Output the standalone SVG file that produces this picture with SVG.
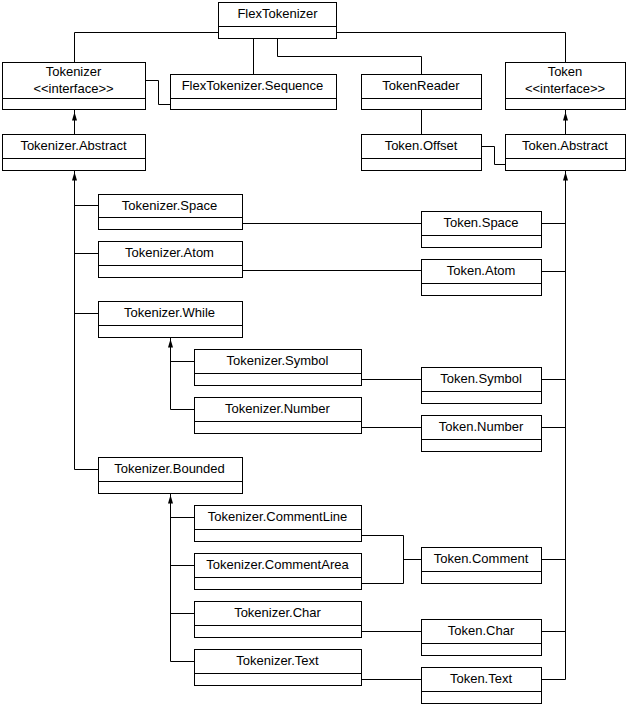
<svg xmlns="http://www.w3.org/2000/svg" width="627" height="707" viewBox="0 0 627 707">
<style>
.b rect{fill:#fff;stroke:#000;stroke-width:1}
.b line{stroke:#000;stroke-width:1}
.b text{font-family:"Liberation Sans",Arial,sans-serif;font-size:13px;fill:#000;text-anchor:middle}
#conn path{fill:none;stroke:#000;stroke-width:1}
</style>
<defs>
<path id="arr" d="M0 0 L-2.5 8.5 L2.5 8.5 Z" fill="#000"/>
</defs>
<rect width="627" height="707" fill="#fff"/>
<g id="conn">
<path d="M218 32.5 H74.5 V62"/>
<path d="M253.5 38 V74"/>
<path d="M277.5 38 V56.5 H421.5 V74"/>
<path d="M336 32.5 H565.5 V62"/>
<path d="M145 80.5 H158.5 V104.5 H170"/>
<path d="M74.5 134 V110"/>
<path d="M421.5 110 V134"/>
<path d="M481 146.5 H494.5 V164.5 H505"/>
<path d="M565.5 134 V110"/>
<path d="M74.5 170 V469.5 H98 M74.5 205.5 H98 M74.5 253.5 H98 M74.5 313.5 H98"/>
<path d="M170.5 337 V409.5 H194 M170.5 361.5 H194"/>
<path d="M170.5 493 V661.5 H194 M170.5 517.5 H194 M170.5 565.5 H194 M170.5 613.5 H194"/>
<path d="M565.5 170 V679.5 H541 M565.5 223.5 H541 M565.5 271.5 H541 M565.5 379.5 H541 M565.5 427.5 H541 M565.5 559.5 H541 M565.5 631.5 H541"/>
<path d="M242 223.5 H421"/>
<path d="M242 270.5 H421"/>
<path d="M361 379.5 H421"/>
<path d="M361 427.5 H421"/>
<path d="M361 535.5 H403.5 V583.5 H361 M403.5 559.5 H421"/>
<path d="M361 631.5 H421"/>
<path d="M361 679.5 H421"/>
<use href="#arr" x="74.5" y="112"/>
<use href="#arr" x="565.5" y="112"/>
<use href="#arr" x="74.5" y="172"/>
<use href="#arr" x="565.5" y="172"/>
<use href="#arr" x="170.5" y="339"/>
<use href="#arr" x="170.5" y="495"/>
</g>
<g id="FlexTokenizer" class="b"><rect x="218.5" y="2.5" width="118" height="36"/><line x1="218.5" y1="26.5" x2="336.5" y2="26.5"/><text x="277.5" y="18">FlexTokenizer</text></g>
<g id="Tokenizer" class="b"><rect x="2.5" y="62.5" width="143" height="47"/><line x1="2.5" y1="98.5" x2="145.5" y2="98.5"/><text x="73.5" y="76">Tokenizer</text><text x="73.5" y="92.5">&lt;&lt;interface&gt;&gt;</text></g>
<g id="FlexTokenizer.Sequence" class="b"><rect x="170.5" y="74.5" width="166" height="35"/><line x1="170.5" y1="98.5" x2="336.5" y2="98.5"/><text x="252.5" y="90">FlexTokenizer.Sequence</text></g>
<g id="TokenReader" class="b"><rect x="361.5" y="74.5" width="120" height="35"/><line x1="361.5" y1="98.5" x2="481.5" y2="98.5"/><text x="421" y="90">TokenReader</text></g>
<g id="Token" class="b"><rect x="505.5" y="62.5" width="120" height="47"/><line x1="505.5" y1="98.5" x2="625.5" y2="98.5"/><text x="565" y="76">Token</text><text x="565" y="92.5">&lt;&lt;interface&gt;&gt;</text></g>
<g id="Tokenizer.Abstract" class="b"><rect x="2.5" y="134.5" width="143" height="36"/><line x1="2.5" y1="158.5" x2="145.5" y2="158.5"/><text x="73.5" y="150">Tokenizer.Abstract</text></g>
<g id="Token.Offset" class="b"><rect x="361.5" y="134.5" width="120" height="36"/><line x1="361.5" y1="158.5" x2="481.5" y2="158.5"/><text x="421" y="150">Token.Offset</text></g>
<g id="Token.Abstract" class="b"><rect x="505.5" y="134.5" width="120" height="36"/><line x1="505.5" y1="158.5" x2="625.5" y2="158.5"/><text x="565" y="150">Token.Abstract</text></g>
<g id="Tokenizer.Space" class="b"><rect x="98.5" y="194.5" width="144" height="35"/><line x1="98.5" y1="217.5" x2="242.5" y2="217.5"/><text x="169.5" y="209.5">Tokenizer.Space</text></g>
<g id="Tokenizer.Atom" class="b"><rect x="98.5" y="241.5" width="144" height="36"/><line x1="98.5" y1="265.5" x2="242.5" y2="265.5"/><text x="169.5" y="257">Tokenizer.Atom</text></g>
<g id="Tokenizer.While" class="b"><rect x="98.5" y="301.5" width="144" height="36"/><line x1="98.5" y1="325.5" x2="242.5" y2="325.5"/><text x="169.5" y="317">Tokenizer.While</text></g>
<g id="Tokenizer.Symbol" class="b"><rect x="194.5" y="349.5" width="167" height="36"/><line x1="194.5" y1="373.5" x2="361.5" y2="373.5"/><text x="277.5" y="365">Tokenizer.Symbol</text></g>
<g id="Tokenizer.Number" class="b"><rect x="194.5" y="397.5" width="167" height="36"/><line x1="194.5" y1="421.5" x2="361.5" y2="421.5"/><text x="277.5" y="413">Tokenizer.Number</text></g>
<g id="Tokenizer.Bounded" class="b"><rect x="98.5" y="457.5" width="144" height="36"/><line x1="98.5" y1="481.5" x2="242.5" y2="481.5"/><text x="169.5" y="473">Tokenizer.Bounded</text></g>
<g id="Tokenizer.CommentLine" class="b"><rect x="194.5" y="505.5" width="167" height="36"/><line x1="194.5" y1="529.5" x2="361.5" y2="529.5"/><text x="277.5" y="521">Tokenizer.CommentLine</text></g>
<g id="Tokenizer.CommentArea" class="b"><rect x="194.5" y="553.5" width="167" height="36"/><line x1="194.5" y1="577.5" x2="361.5" y2="577.5"/><text x="277.5" y="569">Tokenizer.CommentArea</text></g>
<g id="Tokenizer.Char" class="b"><rect x="194.5" y="601.5" width="167" height="36"/><line x1="194.5" y1="625.5" x2="361.5" y2="625.5"/><text x="277.5" y="617">Tokenizer.Char</text></g>
<g id="Tokenizer.Text" class="b"><rect x="194.5" y="649.5" width="167" height="36"/><line x1="194.5" y1="673.5" x2="361.5" y2="673.5"/><text x="277.5" y="665">Tokenizer.Text</text></g>
<g id="Token.Space" class="b"><rect x="421.5" y="211.5" width="120" height="36"/><line x1="421.5" y1="235.5" x2="541.5" y2="235.5"/><text x="481" y="227">Token.Space</text></g>
<g id="Token.Atom" class="b"><rect x="421.5" y="259.5" width="120" height="36"/><line x1="421.5" y1="283.5" x2="541.5" y2="283.5"/><text x="481" y="275">Token.Atom</text></g>
<g id="Token.Symbol" class="b"><rect x="421.5" y="367.5" width="120" height="36"/><line x1="421.5" y1="391.5" x2="541.5" y2="391.5"/><text x="481" y="383">Token.Symbol</text></g>
<g id="Token.Number" class="b"><rect x="421.5" y="415.5" width="120" height="36"/><line x1="421.5" y1="439.5" x2="541.5" y2="439.5"/><text x="481" y="431">Token.Number</text></g>
<g id="Token.Comment" class="b"><rect x="421.5" y="547.5" width="120" height="36"/><line x1="421.5" y1="571.5" x2="541.5" y2="571.5"/><text x="481" y="563">Token.Comment</text></g>
<g id="Token.Char" class="b"><rect x="421.5" y="619.5" width="120" height="36"/><line x1="421.5" y1="643.5" x2="541.5" y2="643.5"/><text x="481" y="635">Token.Char</text></g>
<g id="Token.Text" class="b"><rect x="421.5" y="667.5" width="120" height="36"/><line x1="421.5" y1="691.5" x2="541.5" y2="691.5"/><text x="481" y="683">Token.Text</text></g>
</svg>
